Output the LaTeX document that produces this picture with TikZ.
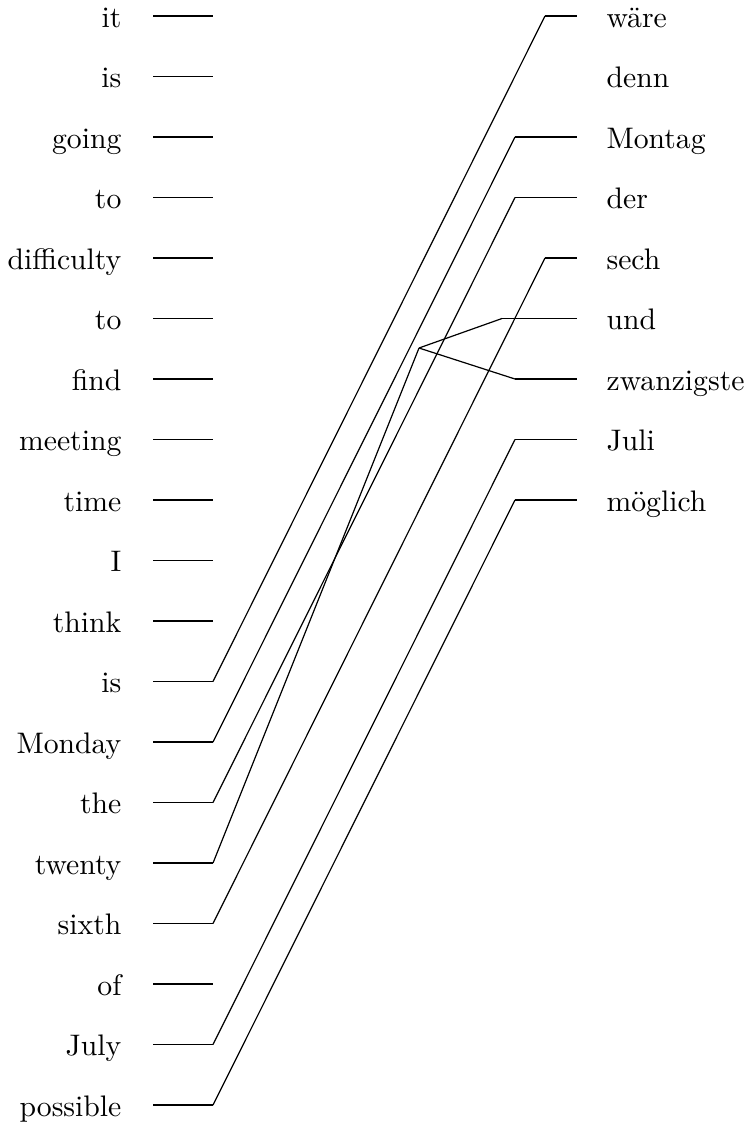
\documentclass[tikz,border=0pt]{standalone}
\begin{document}
\begin{tikzpicture}[x=0.3333pt,y=-0.3333pt,
  word/.style={inner sep=0pt,font=\fontsize{9.9}{12}\selectfont},
  lword/.style={word,anchor=base east},
  rword/.style={word,anchor=base west},
  hline/.style={line width=0.65pt},
  link/.style={line width=0.4pt}]
\useasboundingbox (0,0) rectangle (744,1124);
% left words
\foreach \w/\n [count=\i from 0] in {it/l0,is/l1,going/l2,to/l3,difficulty/l4,to/l5,find/l6,meeting/l7,time/l8,I/l9,think/l10,is/l11,Monday/l12,the/l13,twenty/l14,sixth/l15,of/l16,July/l17,possible/l18}{
  \pgfmathsetmacro{\yy}{16+60.5*\i}
  \node[lword] (\n) at (122,\yy+11) {\w};
  \coordinate (\n a) at (153,\yy);
  \coordinate (\n b) at (213,\yy);
  \draw[hline] (\n a) -- (\n b);
}
% right words
\foreach \w/\n [count=\i from 0] in {w\"are/r0,denn/r1,Montag/r2,der/r3,sech/r4,und/r5,zwanzigste/r6,Juli/r7,m\"oglich/r8}{
  \pgfmathsetmacro{\yy}{16+60.5*\i}
  \node[rword] (\n) at (606,\yy+11) {\w};
  \coordinate (\n e) at (577,\yy);
}
\coordinate (r0s) at (545,16);
\coordinate (r2s) at (515,137);
\coordinate (r3s) at (515,197.5);
\coordinate (r4s) at (545,258);
\coordinate (r5s) at (502,318.5);
\coordinate (r6s) at (515,379);
\coordinate (r7s) at (515,439.5);
\coordinate (r8s) at (515,500);
\foreach \n in {r0,r2,r3,r4,r5,r6,r7,r8}{
  \draw[hline] (\n s) -- (\n e);
}
\coordinate (br) at (419,348);
\draw[link] (l11b) -- (r0s);
\draw[link] (l12b) -- (r2s);
\draw[link] (l13b) -- (r3s);
\draw[link] (l14b) -- (br);
\draw[link] (br) -- (r5s);
\draw[link] (br) -- (r6s);
\draw[link] (l15b) -- (r4s);
\draw[link] (l17b) -- (r7s);
\draw[link] (l18b) -- (r8s);
\end{tikzpicture}
\end{document}
